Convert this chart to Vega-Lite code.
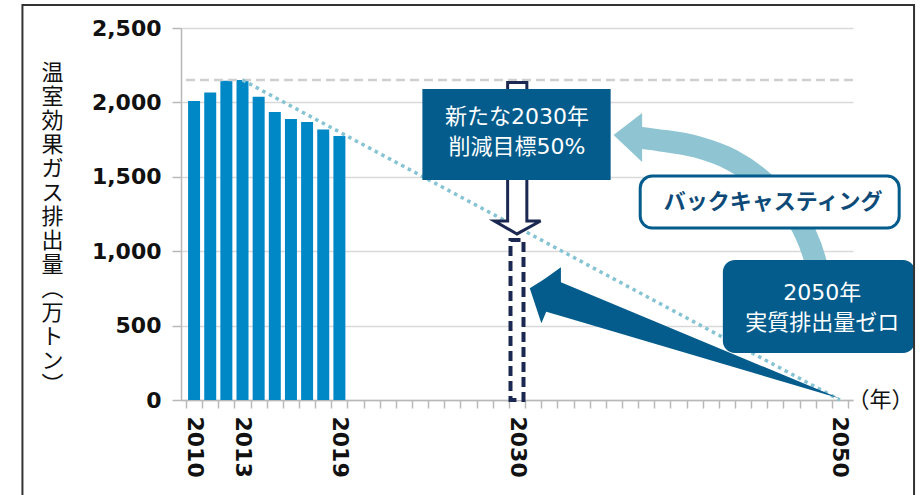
{
  "$schema": "https://vega.github.io/schema/vega-lite/v6.json",
  "width": 672,
  "height": 372,
  "autosize": {"type": "none"},
  "padding": {"left": 181, "top": 28, "right": 71, "bottom": 95},
  "background": "white",
  "config": {"view": {"stroke": null}, "font": "Noto Sans CJK JP"},
  "data": {"values": [{}]},
  "resolve": {"axis": {"x": "independent"}},
  "layer": [
    {
      "data": {"values": [
        {"year": 2010, "value": 2010},
        {"year": 2011, "value": 2066},
        {"year": 2012, "value": 2145},
        {"year": 2013, "value": 2150},
        {"year": 2014, "value": 2038},
        {"year": 2015, "value": 1935},
        {"year": 2016, "value": 1888},
        {"year": 2017, "value": 1868},
        {"year": 2018, "value": 1818},
        {"year": 2019, "value": 1775}
      ]},
      "mark": {"type": "bar", "width": 12, "color": "#0088c6"},
      "encoding": {
        "x": {"field": "year", "type": "quantitative",
          "scale": {"domain": [2009.5, 2050.5], "nice": false, "zero": false},
          "axis": {"orient": "bottom", "values": [2010, 2013, 2019, 2030, 2050], "format": "d",
            "labelAngle": 90, "ticks": false, "tickSize": 0, "domain": false, "grid": false,
            "labelFont": "DejaVu Sans", "labelFontSize": 22, "labelFontWeight": "bold", "labelColor": "#111111",
            "labelPadding": 16, "title": null}},
        "y": {"field": "value", "type": "quantitative",
          "scale": {"domain": [0, 2500], "nice": false, "zero": true},
          "axis": {"values": [0, 500, 1000, 1500, 2000, 2500], "format": ",.0f",
            "labelFont": "DejaVu Sans", "labelFontSize": 22, "labelFontWeight": "bold", "labelColor": "#111111", "labelPadding": 11,
            "tickSize": 9, "tickColor": "#b8b8b8", "tickWidth": 1.5, "domainColor": "#b8b8b8", "domainWidth": 1.5,
            "gridColor": "#d9d9d9", "gridWidth": 1.5,
            "title": ["温", "室", "効", "果", "ガ", "ス", "排", "出", "量", "︵", "万", "ト", "ン", "︶"],
            "titleAngle": 0, "titleFontSize": 22, "titleFontWeight": "normal", "titleColor": "#111111",
            "titleLineHeight": 24, "titleAlign": "center", "titleBaseline": "top",
            "titleX": -129, "titleY": 34}}
      }
    },
    {
      "mark": {"type": "rule", "color": "#cfcfcf", "strokeDash": [9, 5], "strokeWidth": 2.5},
      "encoding": {"y": {"datum": 2150, "type": "quantitative"}}
    },
    {
      "data": {"values": [{"year": 2013, "value": 2150}, {"year": 2050, "value": 0}]},
      "mark": {"type": "line", "color": "#86c3d3", "strokeDash": [3.5, 4], "strokeWidth": 3.5, "strokeCap": "butt"},
      "encoding": {
        "x": {"field": "year", "type": "quantitative",
          "axis": {"orient": "bottom", "values": [2009.5, 2010.5, 2011.5, 2012.5, 2013.5, 2014.5, 2015.5, 2016.5, 2017.5, 2018.5, 2019.5, 2020.5, 2021.5, 2022.5, 2023.5, 2024.5, 2025.5, 2026.5, 2027.5, 2028.5, 2029.5, 2030.5, 2031.5, 2032.5, 2033.5, 2034.5, 2035.5, 2036.5, 2037.5, 2038.5, 2039.5, 2040.5, 2041.5, 2042.5, 2043.5, 2044.5, 2045.5, 2046.5, 2047.5, 2048.5, 2049.5, 2050.5],
            "labels": false, "tickSize": 8, "tickColor": "#b8b8b8", "tickWidth": 1.5,
            "domain": true, "domainColor": "#b8b8b8", "domainWidth": 1.5, "grid": false, "title": null}},
        "y": {"field": "value", "type": "quantitative"}
      }
    },
    {
      "data": {"values": [{"year": 2030, "value": 1075}]},
      "mark": {"type": "bar", "width": 13, "fill": "white", "stroke": "#1b2851", "strokeWidth": 4, "strokeDash": [10, 5]},
      "encoding": {
        "x": {"field": "year", "type": "quantitative", "axis": null},
        "y": {"field": "value", "type": "quantitative"}
      }
    },
    {
      "data": {"values": [
        {"x": 2037.4, "y": 1765},
        {"x": 2038.73, "y": 1747},
        {"x": 2041.17, "y": 1700},
        {"x": 2043.3, "y": 1613},
        {"x": 2045.13, "y": 1478},
        {"x": 2046.66, "y": 1310},
        {"x": 2047.76, "y": 1142},
        {"x": 2048.49, "y": 927},
        {"x": 2048.73, "y": 806}
      ]},
      "mark": {"type": "line", "color": "#8fc5d3", "strokeWidth": 22, "strokeCap": "butt", "interpolate": "monotone"},
      "encoding": {
        "x": {"field": "x", "type": "quantitative", "axis": null},
        "y": {"field": "y", "type": "quantitative"}
      }
    },
    {
      "data": {"values": [
        {"x": 2035.98, "y": 1781, "y2": 1781},
        {"x": 2037.75, "y": 1929, "y2": 1599}
      ]},
      "mark": {"type": "area", "orient": "vertical", "color": "#8fc5d3", "opacity": 1},
      "encoding": {
        "x": {"field": "x", "type": "quantitative", "axis": null},
        "y": {"field": "y", "type": "quantitative"},
        "y2": {"field": "y2"}
      }
    },
    {
      "data": {"values": [
        {"x": 2030.79, "y": 751, "y2": 751},
        {"x": 2031.51, "y": 800, "y2": 515},
        {"x": 2031.81, "y": 821, "y2": 593},
        {"x": 2032.72, "y": 892, "y2": 565},
        {"x": 2032.72, "y": 791, "y2": 565},
        {"x": 2050.0, "y": 10, "y2": 10}
      ]},
      "mark": {"type": "area", "orient": "vertical", "color": "#045c8c", "opacity": 1},
      "encoding": {
        "x": {"field": "x", "type": "quantitative", "axis": null},
        "y": {"field": "y", "type": "quantitative"},
        "y2": {"field": "y2"}
      }
    },
    {
      "data": {"values": [
        {"x": 2028.6, "y": 1203, "y2": 1203},
        {"x": 2029.42, "y": 1203, "y2": 1152},
        {"x": 2029.42, "y": 2134, "y2": 1152},
        {"x": 2030.0, "y": 2134, "y2": 1116},
        {"x": 2030.61, "y": 2134, "y2": 1152},
        {"x": 2030.61, "y": 1203, "y2": 1152},
        {"x": 2031.46, "y": 1203, "y2": 1203}
      ]},
      "mark": {"type": "area", "orient": "vertical", "color": "white", "opacity": 1},
      "encoding": {
        "x": {"field": "x", "type": "quantitative", "axis": null},
        "y": {"field": "y", "type": "quantitative"},
        "y2": {"field": "y2"}
      }
    },
    {
      "data": {"values": [
        {"i": 1, "x": 2029.42, "y": 2134},
        {"i": 2, "x": 2029.42, "y": 1203},
        {"i": 3, "x": 2028.6, "y": 1203},
        {"i": 4, "x": 2030.0, "y": 1116},
        {"i": 5, "x": 2031.46, "y": 1203},
        {"i": 6, "x": 2030.61, "y": 1203},
        {"i": 7, "x": 2030.61, "y": 2134},
        {"i": 8, "x": 2029.42, "y": 2134}
      ]},
      "mark": {"type": "line", "color": "#1b2851", "strokeWidth": 3, "strokeJoin": "miter", "strokeCap": "square"},
      "encoding": {
        "x": {"field": "x", "type": "quantitative", "axis": null},
        "y": {"field": "y", "type": "quantitative"},
        "order": {"field": "i", "type": "quantitative"}
      }
    },
    {
      "mark": {"type": "rect", "fill": "#045c8c"},
      "encoding": {
        "x": {"datum": 2024.14, "type": "quantitative", "axis": null},
        "x2": {"datum": 2035.8},
        "y": {"datum": 2090, "type": "quantitative"},
        "y2": {"datum": 1478}
      }
    },
    {
      "mark": {"type": "text", "text": ["新たな2030年", "削減目標50%"], "font": "DejaVu Sans, Noto Sans CJK JP", "color": "white", "fontSize": 22, "lineHeight": 30, "align": "center", "baseline": "middle"},
      "encoding": {
        "x": {"datum": 2030, "type": "quantitative", "axis": null},
        "y": {"datum": 1905, "type": "quantitative"}
      }
    },
    {
      "mark": {"type": "rect", "fill": "white", "stroke": "#045c8c", "strokeWidth": 3, "cornerRadius": 12},
      "encoding": {
        "x": {"datum": 2037.63, "type": "quantitative", "axis": null},
        "x2": {"datum": 2053.67},
        "y": {"datum": 1505, "type": "quantitative"},
        "y2": {"datum": 1156}
      }
    },
    {
      "mark": {"type": "text", "text": "バックキャスティング", "color": "#0d4a77", "fontSize": 22, "fontWeight": 600, "align": "center", "baseline": "middle"},
      "encoding": {
        "x": {"datum": 2045.86, "type": "quantitative", "axis": null},
        "y": {"datum": 1331, "type": "quantitative"}
      }
    },
    {
      "mark": {"type": "rect", "fill": "#045c8c", "cornerRadius": 12},
      "encoding": {
        "x": {"datum": 2042.75, "type": "quantitative", "axis": null},
        "x2": {"datum": 2054.65},
        "y": {"datum": 941, "type": "quantitative"},
        "y2": {"datum": 316}
      }
    },
    {
      "mark": {"type": "text", "text": ["2050年", "実質排出量ゼロ"], "font": "DejaVu Sans, Noto Sans CJK JP", "color": "white", "fontSize": 22, "lineHeight": 30, "align": "center", "baseline": "middle"},
      "encoding": {
        "x": {"datum": 2048.91, "type": "quantitative", "axis": null},
        "y": {"datum": 722, "type": "quantitative"}
      }
    },
    {
      "mark": {"type": "text", "text": "（年）", "color": "#111111", "fontSize": 22, "align": "center", "baseline": "middle"},
      "encoding": {
        "x": {"datum": 2052.51, "type": "quantitative", "axis": null},
        "y": {"datum": 0, "type": "quantitative"}
      }
    },
    {
      "mark": {"type": "rect", "fillOpacity": 0, "stroke": "#333333", "strokeWidth": 2},
      "encoding": {
        "x": {"datum": 1999.37, "type": "quantitative", "axis": null},
        "x2": {"datum": 2054.59},
        "y": {"datum": 2654, "type": "quantitative"},
        "y2": {"datum": -652}
      }
    }
  ]
}
